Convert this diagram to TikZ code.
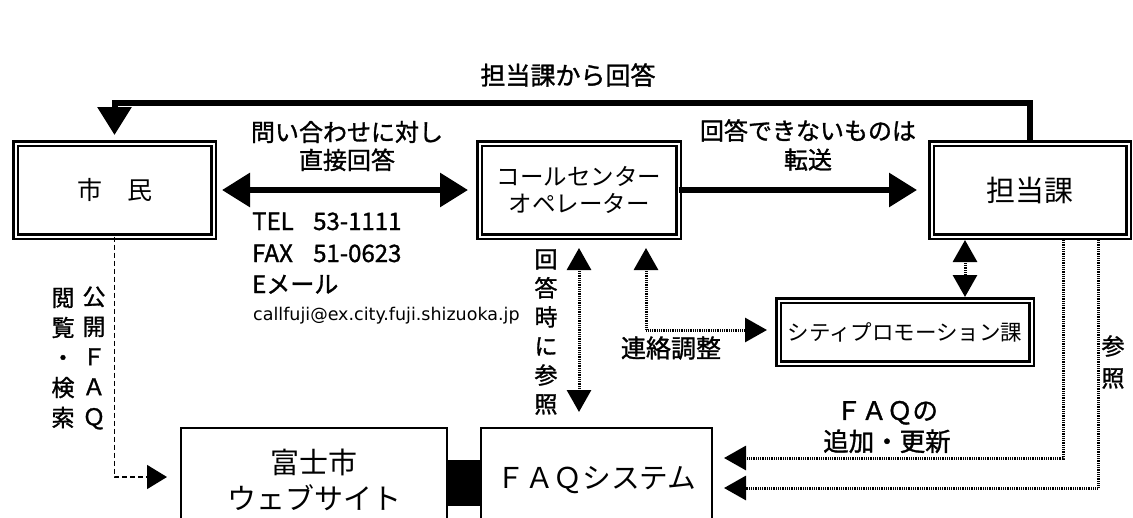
\documentclass[tikz,border=0pt]{standalone}
\usepackage{fontspec}
\setmainfont{Noto Sans CJK JP}
\newfontfamily\lblfont{Noto Sans CJK JP}[FakeBold=1.3]
\newfontfamily\urlfont{DejaVu Sans}
\usepackage{tikz}
\usetikzlibrary{calc}
\usetikzlibrary{arrows.meta}
\usetikzlibrary{positioning}

\begin{document}
\begin{tikzpicture}[x=1pt, y=-1pt,
    dblbox/.style={draw, double, double distance=2pt, line width=2.5pt,
                   inner sep=0pt, outer sep=0pt, align=center},
    sysbox/.style={draw, line width=2pt, inner sep=0pt, outer sep=0pt, align=center},
    lbl/.style={inner sep=0pt, align=center},
    bigarrow/.style={line width=6pt, -{Triangle[length=28pt,width=33pt]}},
    bigboth/.style={line width=6pt, {Triangle[length=28pt,width=33pt]}-{Triangle[length=28pt,width=33pt]}},
    dotline/.style={line width=3pt, dash pattern=on 1pt off 0.8pt},
    dotarrow/.style={dotline, -{Triangle[length=22pt,width=24pt]}},
    dotboth/.style={dotline, {Triangle[length=22pt,width=24pt]}-{Triangle[length=22pt,width=24pt]}},
    dasharrow/.style={line width=1.5pt, dash pattern=on 5pt off 3pt, -{Triangle[length=20pt,width=24pt]}}]
    \useasboundingbox (0,0) rectangle (1133,517);
    \clip (0,0) rectangle (1133,517);
    % Boxes
    \node[dblbox, minimum width=198pt, minimum height=93pt, font=\fontsize{25}{25}\selectfont]
         (shimin) at (114.5,190) {市　民};
    \node[dblbox, minimum width=199pt, minimum height=93pt, font=\fontsize{23.5}{27}\selectfont]
         (call)   at (579,190)   {コールセンター\\オペレーター};
    \node[dblbox, minimum width=197pt, minimum height=93pt, font=\fontsize{29}{29}\selectfont]
         (tanto)  at (1030,190)  {担当課};
    \node[dblbox, minimum width=253pt, minimum height=63pt, font=\fontsize{21.5}{21.5}\selectfont]
         (city)   at (905,332)   {シティプロモーション課};
    \node[sysbox, minimum width=266pt, minimum height=104pt, font=\fontsize{29}{36}\selectfont]
         (web)    at (314,480)   {富士市\\ウェブサイト};
    \node[sysbox, minimum width=231pt, minimum height=104pt, font=\fontsize{28.7}{29}\selectfont]
         (faq)    at (596.5,480) {ＦＡＱシステム};
    % Joint between the two systems
    \fill ($(web.east)+(-1,-20)$) rectangle ($(faq.west)+(1,26)$);

    % Answer from the section
    \coordinate (loop) at (570,103);
    \draw[bigarrow, shorten <=3.5pt, shorten >=8.5pt] (tanto.north) |- (loop) -| (shimin.north);
    \node[lbl, font=\lblfont\fontsize{25}{25}\selectfont] (kaito) at (568,75) {担当課から回答};

    % Direct answer
    \draw[bigboth, shorten <=8.5pt, shorten >=11.5pt] (shimin.east) -- (call.west);
    \node[lbl, font=\lblfont\fontsize{24}{28}\selectfont] (chokusetsu) at (347,146) {問い合わせに対し\\直接回答};
    \node[lbl, anchor=base west, font=\lblfont\fontsize{24}{24}\selectfont] (tel)  at (252,230) {\makebox[61pt][l]{TEL}53-1111};
    \node[lbl, anchor=base west, font=\lblfont\fontsize{24}{24}\selectfont] (fax)  at (252,262) {\makebox[61pt][l]{FAX}51-0623};
    \node[lbl, anchor=base west, font=\lblfont\fontsize{24}{24}\selectfont] (mail) at (252,293) {Eメール};
    \node[lbl, anchor=base west, font=\urlfont\fontsize{17.5}{17.5}\selectfont] (addr) at (253,320)
         {callfuji@ex.city.fuji.shizuoka.jp};

    % Forward
    \draw[bigarrow, shorten >=14.5pt] (call.east) -- (tanto.west);
    \node[lbl, font=\lblfont\fontsize{24}{29}\selectfont] (tensou) at (808,145) {回答できないものは\\転送};

    % Reference at answer time
    \draw[dotboth, shorten <=11.5pt, shorten >=16pt] (call.south) -- (call.south |- faq.north);
    \node[lbl, font=\lblfont\fontsize{23}{29}\selectfont] (sanshou1) at (546,332) {回\\答\\時\\に\\参\\照};

    % Coordination
    \draw[dotboth, shorten <=11.5pt, shorten >=11.5pt] ($(call.south)+(67,0)$) |- ($(city.west)+(0,-2)$);
    \node[lbl, font=\lblfont\fontsize{25}{25}\selectfont] (renraku) at (671,348) {連絡調整};
    \draw[dotboth, shorten <=3.5pt, shorten >=3.5pt] ($(tanto.south)+(-65,0)$) -- ($(city.north)+(60,0)$);

    % FAQ update / reference
    \draw[dotarrow, shorten <=3.5pt, shorten >=12pt] ($(tanto.south)+(33,0)$) |- ($(faq.east)+(0,-22)$);
    \draw[dotarrow, shorten <=3.5pt, shorten >=12pt] ($(tanto.south)+(68,0)$) |- ($(faq.east)+(0,8)$);
    \node[lbl, font=\lblfont\fontsize{25.5}{31}\selectfont] (tsuika) at (887,427) {ＦＡＱの\\追加・更新};
    \node[lbl, font=\lblfont\fontsize{23}{32}\selectfont] (sanshou2) at (1113,362) {参\\照};

    % Public FAQ
    \draw[dasharrow, shorten >=14pt] (shimin.south) |- ($(web.west)+(0,-3)$);
    \node[lbl, font=\lblfont\fontsize{23}{30}\selectfont] (koukai) at (94,358) {公\\開\\Ｆ\\Ａ\\Ｑ};
    \node[lbl, font=\lblfont\fontsize{23}{30}\selectfont] (etsuran) at (63,358) {閲\\覧\\・\\検\\索};
\end{tikzpicture}
\end{document}
